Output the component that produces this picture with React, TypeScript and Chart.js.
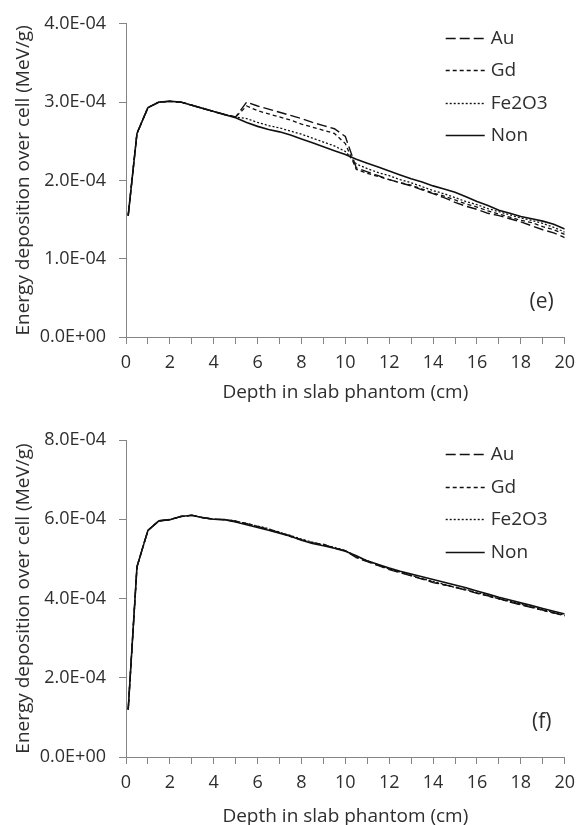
import React, { useEffect, useRef } from "react";
import { Chart, registerables } from "chart.js";

Chart.register(...registerables);

// Depth (cm) sample positions shared by every series
const depthCm = [0.1, 0.5, 1, 1.5, 2, 2.5, 3, 3.5, 4, 4.5, 5, 5.5, 6, 6.5, 7, 7.5, 8, 8.5, 9, 9.5, 10,
  10.5, 11, 11.5, 12, 12.5, 13, 13.5, 14, 14.5, 15, 15.5, 16, 16.5, 17, 17.5, 18, 18.5, 19, 19.5, 20];

// Values below are in units of 1E-04 MeV/g
const UNIT = 1e-4;

// Panel (e)
const auE = [1.55, 2.60, 2.93, 3.00, 3.01, 3.00, 2.96, 2.92, 2.88, 2.84,
  2.81, 3.00, 2.95, 2.91, 2.87, 2.83, 2.79, 2.74, 2.70, 2.66,
  2.56, 2.16, 2.11, 2.06, 2.01, 1.97, 1.93, 1.88, 1.83, 1.78,
  1.72, 1.67, 1.63, 1.58, 1.55, 1.51, 1.47, 1.42, 1.37, 1.33, 1.27];
const gdE = [1.55, 2.60, 2.93, 3.00, 3.01, 3.00, 2.96, 2.92, 2.88, 2.84,
  2.81, 2.95, 2.89, 2.85, 2.81, 2.77, 2.72, 2.68, 2.64, 2.60,
  2.47, 2.14, 2.09, 2.05, 2.01, 1.97, 1.94, 1.89, 1.84, 1.80,
  1.75, 1.70, 1.66, 1.61, 1.57, 1.53, 1.49, 1.46, 1.41, 1.37, 1.31];
const feE = [1.55, 2.60, 2.93, 3.00, 3.01, 3.00, 2.96, 2.92, 2.88, 2.84,
  2.81, 2.79, 2.74, 2.70, 2.67, 2.63, 2.59, 2.54, 2.49, 2.44,
  2.37, 2.21, 2.15, 2.10, 2.06, 2.01, 1.97, 1.92, 1.87, 1.83,
  1.78, 1.73, 1.69, 1.64, 1.60, 1.56, 1.52, 1.49, 1.45, 1.40, 1.34];
const nonE = [1.55, 2.60, 2.93, 3.00, 3.01, 3.00, 2.96, 2.92, 2.88, 2.84,
  2.80, 2.74, 2.69, 2.65, 2.62, 2.58, 2.53, 2.48, 2.43, 2.38,
  2.33, 2.27, 2.22, 2.17, 2.12, 2.07, 2.02, 1.98, 1.93, 1.89,
  1.85, 1.79, 1.73, 1.68, 1.62, 1.58, 1.54, 1.51, 1.48, 1.44, 1.38];

// Panel (f)
const auF = [1.20, 4.80, 5.72, 5.96, 5.99, 6.07, 6.10, 6.04, 6.00, 5.99,
  5.95, 5.89, 5.82, 5.74, 5.66, 5.58, 5.48, 5.41, 5.36, 5.28,
  5.20, 5.03, 4.93, 4.83, 4.73, 4.65, 4.57, 4.49, 4.40, 4.35,
  4.28, 4.21, 4.13, 4.07, 4.00, 3.91, 3.84, 3.77, 3.71, 3.64, 3.56];
const gdF = [1.20, 4.80, 5.72, 5.96, 5.99, 6.07, 6.10, 6.04, 6.00, 5.99,
  5.94, 5.90, 5.81, 5.75, 5.67, 5.56, 5.49, 5.40, 5.37, 5.27,
  5.21, 5.05, 4.94, 4.84, 4.75, 4.66, 4.58, 4.50, 4.42, 4.34,
  4.29, 4.22, 4.14, 4.06, 3.99, 3.92, 3.85, 3.78, 3.70, 3.63, 3.57];
const feF = [1.20, 4.80, 5.72, 5.96, 5.99, 6.07, 6.10, 6.04, 6.00, 5.99,
  5.96, 5.88, 5.83, 5.76, 5.67, 5.59, 5.50, 5.42, 5.35, 5.29,
  5.21, 5.06, 4.95, 4.85, 4.74, 4.67, 4.59, 4.50, 4.43, 4.36,
  4.28, 4.23, 4.15, 4.08, 3.99, 3.93, 3.86, 3.78, 3.72, 3.65, 3.58];
const nonF = [1.20, 4.80, 5.72, 5.96, 5.99, 6.07, 6.10, 6.04, 6.00, 5.99,
  5.93, 5.86, 5.79, 5.72, 5.65, 5.57, 5.47, 5.39, 5.33, 5.27,
  5.19, 5.08, 4.95, 4.86, 4.77, 4.69, 4.62, 4.55, 4.48, 4.41,
  4.34, 4.27, 4.19, 4.11, 4.03, 3.96, 3.89, 3.82, 3.75, 3.68, 3.61];

const seriesNames = ["Au", "Gd", "Fe2O3", "Non"];
const seriesDash = [[10, 4], [4, 3], [2, 2], []];
const seriesWidth = [1.4, 1.3, 1.3, 1.6];

const xTitle = "Depth in slab phantom (cm)";
const yTitle = "Energy deposition over cell (MeV/g)";

const FONT = '"Open Sans", "DejaVu Sans", sans-serif';
const TEXT = "#2e2e2e";
const AXIS = "#858585";

function sci(v: number): string {
  if (Math.abs(v) < 1e-12) return "0.0E+00";
  const e = Math.floor(Math.log10(Math.abs(v)) + 1e-9);
  const m = v / Math.pow(10, e);
  return m.toFixed(1) + "E" + (e < 0 ? "-" : "+") + String(Math.abs(e)).padStart(2, "0");
}

const overlayPlugin = {
  id: "overlay",
  afterDraw(chart: any, _args: any, opts: any) {
    const { ctx, chartArea } = chart;
    ctx.save();
    ctx.font = `19px ${FONT}`;
    ctx.textBaseline = "middle";
    ctx.textAlign = "left";
    ctx.fillStyle = TEXT;
    chart.data.datasets.forEach((ds: any, i: number) => {
      const y = Math.round(chartArea.top + 14 + i * 32.5) + 0.5;
      const x0 = chartArea.right - 119;
      ctx.strokeStyle = "#111";
      ctx.lineWidth = 1.4;
      ctx.setLineDash(ds.borderDash || []);
      ctx.beginPath();
      ctx.moveTo(x0, y);
      ctx.lineTo(x0 + 39, y);
      ctx.stroke();
      ctx.setLineDash([]);
      ctx.fillText(ds.label, x0 + 45, y);
    });
    ctx.font = `21px ${FONT}`;
    ctx.textAlign = "center";
    ctx.fillText(opts.panel, chartArea.right - 23, chartArea.bottom - 35);
    ctx.restore();
  },
};

type PanelProps = {
  top: number;
  height: number;
  padTop: number;
  xHeight: number;
  xTitlePad: number;
  yMax: number;
  yStep: number;
  values: number[][];
  panel: string;
};

function Panel({ top, height, padTop, xHeight, xTitlePad, yMax, yStep, values, panel }: PanelProps) {
  const ref = useRef<HTMLCanvasElement>(null);
  useEffect(() => {
    if (!ref.current) return;
    const chart = new Chart(ref.current, {
      type: "line",
      data: {
        datasets: seriesNames.map((name, i) => ({
          label: name,
          data: depthCm.map((x, k) => ({ x, y: values[i][k] * UNIT })),
          borderColor: "#111",
          borderWidth: seriesWidth[i],
          borderDash: seriesDash[i],
          pointRadius: 0,
          tension: 0,
          fill: false,
        })),
      },
      options: {
        animation: false,
        responsive: false,
        devicePixelRatio: 1,
        layout: { padding: { top: padTop, right: 11, left: 0, bottom: 0 } },
        plugins: {
          legend: { display: false },
          tooltip: { enabled: false },
          overlay: { panel },
        } as any,
        scales: {
          x: {
            type: "linear",
            min: 0,
            max: 20,
            afterFit: (s: any) => { s.height = xHeight; },
            ticks: {
              stepSize: 1,
              autoSkip: false,
              maxRotation: 0,
              padding: 8,
              color: TEXT,
              font: { family: FONT, size: 18 },
              callback: (v: any) => (Math.round(v) % 2 === 0 ? String(v) : ""),
            },
            grid: { drawOnChartArea: false, drawTicks: true, tickLength: 7, color: AXIS },
            border: { color: AXIS, width: 1 },
            title: {
              display: true,
              text: xTitle,
              color: TEXT,
              font: { family: FONT, size: 19 },
              padding: { top: 0, bottom: xTitlePad },
            },
          },
          y: {
            type: "linear",
            min: 0,
            max: yMax,
            afterFit: (s: any) => { s.width = 126; },
            ticks: {
              stepSize: yStep,
              padding: 13,
              color: TEXT,
              font: { family: FONT, size: 18 },
              callback: (v: any) => sci(Number(v)),
            },
            grid: { drawOnChartArea: false, drawTicks: true, tickLength: 7, color: AXIS },
            border: { color: AXIS, width: 1 },
            title: {
              display: true,
              text: yTitle,
              color: TEXT,
              font: { family: FONT, size: 19 },
              padding: { top: 12, bottom: 0 },
            },
          },
        },
      } as any,
      plugins: [overlayPlugin],
    });
    return () => chart.destroy();
  }, []);
  return (
    <canvas
      ref={ref}
      width={583}
      height={height}
      style={{ position: "absolute", left: 0, top, width: 583, height, display: "block" }}
    />
  );
}

export default function App() {
  return (
    <div
      style={{
        position: "fixed",
        left: 0,
        top: 0,
        width: 583,
        height: 825,
        overflow: "hidden",
        background: "#fff",
      }}
    >
      <Panel top={0} height={412} padTop={16} xHeight={75} xTitlePad={8} yMax={4e-4} yStep={1e-4}
        values={[auE, gdE, feE, nonE]} panel="(e)" />
      <Panel top={412} height={416} padTop={28} xHeight={71} xTitlePad={0} yMax={8e-4} yStep={2e-4}
        values={[auF, gdF, feF, nonF]} panel="(f)" />
    </div>
  );
}
